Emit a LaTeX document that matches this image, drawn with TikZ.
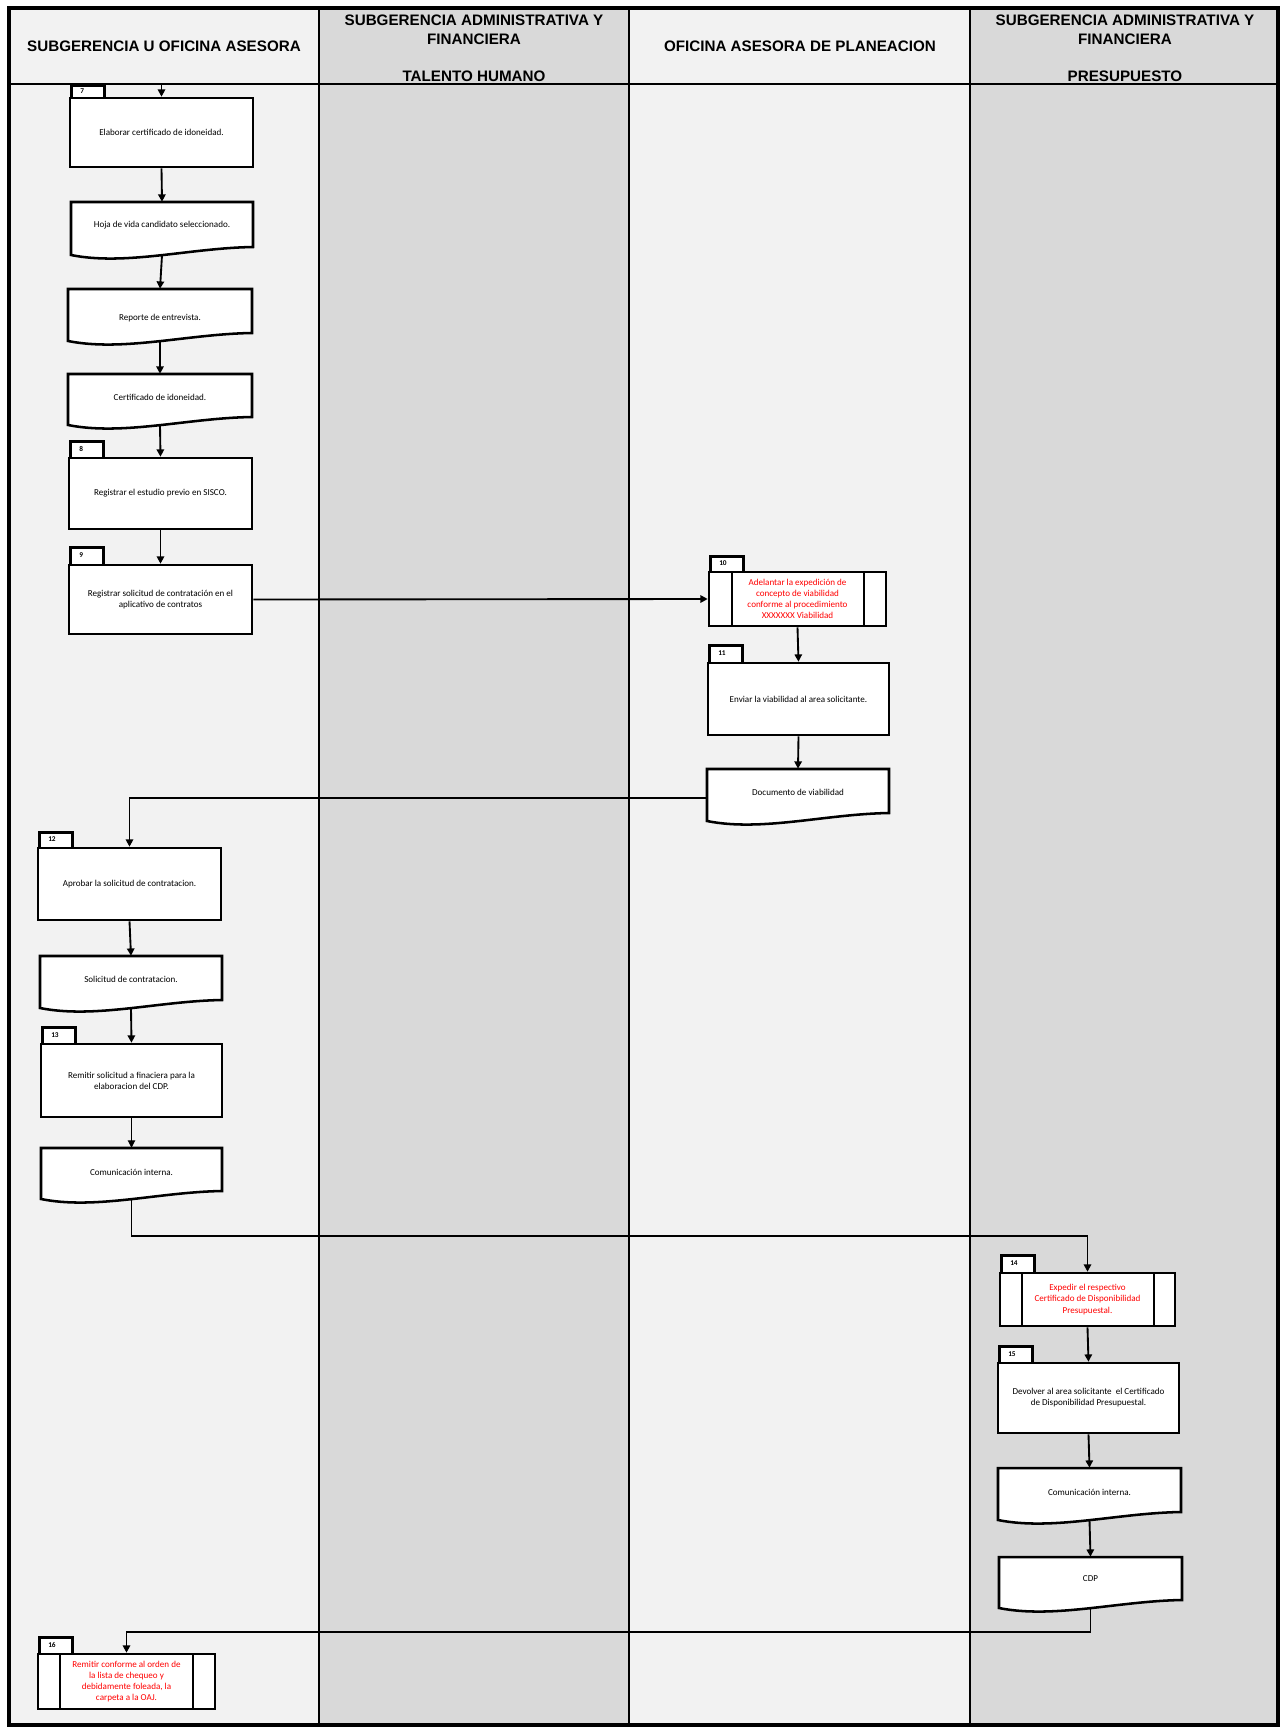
\documentclass[tikz,border=0pt]{standalone}
\usepackage{fontspec}
\setmainfont{Carlito}
\newfontfamily\hdrfont{Liberation Sans}
\usetikzlibrary{arrows.meta,calc}

\definecolor{lanelight}{HTML}{F2F2F2}
\definecolor{lanedark}{HTML}{D9D9D9}
\definecolor{redtxt}{HTML}{FF0000}

\tikzset{
  x=0.75pt, y=-0.75pt,
  laneline/.style={line width=2pt, black},
  frameline/.style={line width=2.4pt, black},
  shapeline/.style={line width=1.9pt, black},
  boxtext/.style={font=\fontsize{6.8}{8.3}\selectfont, align=center},
  procbox/.style={draw, line width=1.9pt, fill=white, inner sep=0pt, boxtext},
  tabbox/.style={draw, line width=1.9pt, fill=white, inner sep=0pt},
  tabtext/.style={font=\bfseries\fontsize{5.5}{6.5}\selectfont, inner sep=0pt, anchor=west},
  shapenode/.style={inner sep=0pt},
  conn/.style={line width=1.4pt, -{Triangle[length=5.5pt,width=5.5pt]}},
  connthin/.style={line width=0.8pt, -{Triangle[length=5.5pt,width=5.5pt]}},
  hdr/.style={font=\hdrfont\bfseries\fontsize{11.4}{13.9}\selectfont, align=center},
}

% tab: name, x1, ytop, ybottom, number
\newcommand{\tabat}[5]{%
  \node[tabbox, minimum width={33*0.75pt}, minimum height={(#4-#3)*0.75pt}, anchor=north west] (#1) at (#2,#3) {};
  \node[tabtext] (#1-n) at ({#2+10},{(#3+#4)/2}) {#5};
}
% process box: name, x1, y1, x2, y2, text
\newcommand{\procat}[6]{%
  \node[procbox, minimum width={(#4-#2)*0.75pt}, minimum height={(#5-#3)*0.75pt}] (#1) at ({(#2+#4)/2},{(#3+#5)/2}) {#6};
}
% predefined process: name, x1, y1, x2, y2, text, inner left x, inner right x
\newcommand{\predat}[8]{%
  \node[procbox, text=redtxt, minimum width={(#4-#2)*0.75pt}, minimum height={(#5-#3)*0.75pt}] (#1) at ({(#2+#4)/2},{(#3+#5)/2}) {#6};
  \draw[shapeline] (#7,#3) -- (#7,#5);
  \draw[shapeline] (#8,#3) -- (#8,#5);
}
% document: name, x1, y1, x2, ybottom, text, text offset from top
\newcommand{\docat}[7]{%
  \filldraw[shapeline, fill=white] (#2,{#5-3}) -- (#2,#3) -- (#4,#3) -- (#4,{#5-11})
     .. controls ({#2+0.65*(#4-#2)},{#5-10}) and ({#2+0.3*(#4-#2)},{#5+8}) .. (#2,{#5-3}) -- cycle;
  \node[shapenode, minimum width={(#4-#2)*0.75pt}, minimum height={(#5-3-#3)*0.75pt}] (#1) at ({(#2+#4)/2},{(#3+#5-3)/2}) {};
  \node[boxtext, inner sep=0pt] (#1-t) at ({(#2+#4)/2},{#3+#7}) {#6};
}

\begin{document}
\begin{tikzpicture}
\useasboundingbox (0,0) rectangle (1280,1727);
\fill[white] (0,0) rectangle (1280,1727);

% lanes
\fill[lanelight] (9,8) rectangle (319,1725);
\fill[lanedark] (319,8) rectangle (629,1725);
\fill[lanelight] (629,8) rectangle (970,1725);
\fill[lanedark] (970,8) rectangle (1278,1725);
\draw[laneline] (9,84) -- (1278,84);
\draw[laneline] (319,8) -- (319,1725);
\draw[laneline] (629,8) -- (629,1725);
\draw[laneline] (970,8) -- (970,1725);
\draw[frameline] (9,8) rectangle (1278,1725);

% headers
\node[hdr] (h1) at (164,46) {SUBGERENCIA U OFICINA ASESORA};
\node[hdr] (h2) at (474,48.5) {SUBGERENCIA ADMINISTRATIVA Y\\FINANCIERA\\[13.9pt]TALENTO HUMANO};
\node[hdr] (h3) at (800,46) {OFICINA ASESORA DE PLANEACION};
\node[hdr] (h4) at (1125,48.5) {SUBGERENCIA ADMINISTRATIVA Y\\FINANCIERA\\[13.9pt]PRESUPUESTO};

% column 1 upper
\tabat{t7}{70}{84}{98}{7}
\procat{b7}{70}{98}{253}{167}{Elaborar certificado de idoneidad.}
\docat{d1}{71}{202}{253}{258}{Hoja de vida candidato seleccionado.}{23}
\docat{d2}{68}{289}{252}{344}{Reporte de entrevista.}{29}
\docat{d3}{68}{374}{252}{428}{Certificado de idoneidad.}{23}
\tabat{t8}{69}{440}{458}{8}
\procat{b8}{69}{458}{252}{529}{Registrar el estudio previo en SISCO.}
\tabat{t9}{69}{546}{565}{9}
\procat{b9}{69}{565}{252}{634}{Registrar solicitud de contratación en el\\aplicativo de contratos}

% column 3
\tabat{t10}{709}{555}{572}{10}
\predat{b10}{709}{572}{886}{626}{Adelantar la expedición de\\concepto de viabilidad\\conforme al procedimiento\\XXXXXXX Viabilidad}{732}{864}
\tabat{t11}{708}{644}{663}{11}
\procat{b11}{708}{663}{889}{735}{Enviar la viabilidad al area solicitante.}
\docat{dv}{707}{769}{889}{824}{Documento de viabilidad}{23}

% column 1 lower
\tabat{t12}{38}{831}{848}{12}
\procat{b12}{38}{848}{221}{920}{Aprobar la solicitud de contratacion.}
\docat{d4}{40}{956}{222}{1011}{Solicitud de contratacion.}{23}
\tabat{t13}{41}{1026}{1044}{13}
\procat{b13}{41}{1044}{222}{1117}{Remitir solicitud a finaciera para la\\elaboracion del CDP.}
\docat{d5}{41}{1148}{222}{1202}{Comunicación interna.}{24}

% column 4
\tabat{t14}{1000}{1254}{1273}{14}
\predat{b14}{1000}{1273}{1175}{1326}{Expedir el respectivo\\Certificado de Disponibilidad\\Presupuestal.}{1022}{1154}
\tabat{t15}{998}{1345}{1363}{15}
\procat{b15}{998}{1363}{1179}{1433}{Devolver al area solicitante~ el Certificado\\de Disponibilidad Presupuestal.}
\docat{d6}{998}{1468}{1181}{1523}{Comunicación interna.}{24}
\docat{d7}{999}{1557}{1182}{1611}{CDP}{22}

% final
\tabat{t16}{38}{1636}{1654}{16}
\predat{b16}{38}{1654}{215}{1709}{Remitir conforme al orden de\\la lista de chequeo y\\debidamente foleada, la\\carpeta a la OAJ.}{60}{193}

% connectors
\coordinate (top7) at (161.5,84);
\coordinate (turn1) at (600,1236);
\coordinate (turn2) at (600,1632);
\draw[conn] (top7) -- (b7.north);
\draw[conn] (b7.south) -- (d1.north);
\draw[conn] (d1.south) -- (d2.north);
\draw[conn] (d2.south) -- (d3.north);
\draw[conn] (d3.south) -- (b8.north);
\draw[conn] (b8.south) -- (b9.north);
\draw[conn] (b9.east) -- (b10.west);
\draw[conn] (b10.south) -- (b11.north);
\draw[conn] (b11.south) -- (dv.north);
\draw[conn] ([yshift=-2pt]dv.west) -| (b12.north);
\draw[conn] (b12.south) -- (d4.north);
\draw[conn] (d4.south) -- (b13.north);
\draw[connthin] (b13.south) -- (d5.north);
\draw[conn] (d5.south) |- (turn1) -| (b14.north);
\draw[conn] (b14.south) -- (b15.north);
\draw[conn] (b15.south) -- (d6.north);
\draw[conn] (d6.south) -- (d7.north);
\draw[conn] (d7.south) |- (turn2) -| (b16.north);
\end{tikzpicture}
\end{document}
